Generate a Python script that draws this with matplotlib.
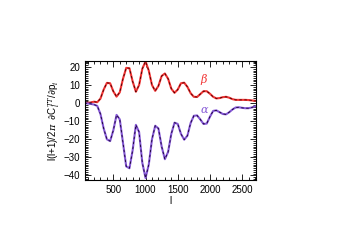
import numpy as np
import matplotlib
matplotlib.use("Agg")
import matplotlib.pyplot as plt
from matplotlib.ticker import MultipleLocator

ell = list(range(50, 2751, 50))
beta = [0.3, 0.1, 0.4, 0.8, 0.5, 2.5, 7.5, 11.2, 11.0, 6.5, 3.6, 6.0, 13.5, 19.5,
        19.3, 12.0, 6.3, 10.0, 19.0, 23.1, 18.0, 10.0, 6.8, 9.5, 15.0, 16.4, 13.5,
        8.0, 5.7, 7.5, 11.0, 11.3, 9.0, 5.5, 3.5, 3.4, 5.0, 6.6, 6.6, 5.2, 3.5, 2.6,
        2.8, 3.3, 3.5, 3.0, 2.2, 1.8, 1.8, 1.8, 1.8, 1.7, 1.5, 1.3, 1.2]
alpha = [0.0, -0.2, -0.4, -0.8, -1.5, -6, -14, -20, -21, -15, -6.5, -9, -22, -35,
         -36, -26, -12, -16, -33, -41.4, -34, -20, -12.5, -14, -24, -31, -27, -17,
         -10.8, -11.5, -17, -20.2, -18, -11, -7, -6.8, -9, -11.5, -11.3, -7.5, -4.3,
         -4.0, -5.0, -6.0, -6.2, -5, -3.5, -2.4, -2.3, -2.6, -2.8, -2.8, -2.4, -1.8,
         -1.3]
labels = ["$\\beta$", "$\\alpha$"]

plt.rcParams['font.family'] = ['Liberation Sans', 'DejaVu Sans']
plt.rcParams['mathtext.fontset'] = 'dejavuserif'

fig = plt.figure(figsize=(3.4, 2.43), dpi=100)
ax = fig.add_axes([85/340, 1 - 180/243, (256-85)/340, (180-61)/243])

red = '#f23434'
purple = '#8558d6'
ax.plot(ell, beta, color=red, lw=1.5)
ax.plot(ell, beta, color='#400000', lw=0.6, ls=(0, (3, 3)))
ax.plot(ell, alpha, color=purple, lw=1.5)
ax.plot(ell, alpha, color='#180030', lw=0.6, ls=(0, (3, 3)))

ax.text(1850, 11, labels[0], color=red, fontsize=8, style='italic')
ax.text(1850, -5.5, labels[1], color=purple, fontsize=8, style='italic')

ax.set_xlim(60, 2715)
ax.set_ylim(-42.5, 23.3)
ax.xaxis.set_major_locator(MultipleLocator(500))
ax.xaxis.set_minor_locator(MultipleLocator(100))
ax.yaxis.set_major_locator(MultipleLocator(10))
ax.yaxis.set_minor_locator(MultipleLocator(1))
ax.tick_params(which='both', direction='in', top=True, right=True, labelsize=7, width=0.6)
ax.tick_params(which='major', length=4)
ax.tick_params(which='minor', length=2)
for s in ax.spines.values():
    s.set_linewidth(0.8)

ax.set_xlabel('l', fontsize=7, labelpad=1)
ax.set_ylabel(r'l(l+1)/2$\pi$  $\partial$C$_l^{TT}$/$\partial$p$_i$', fontsize=7, labelpad=1)

fig.savefig('out.png', dpi=100)
